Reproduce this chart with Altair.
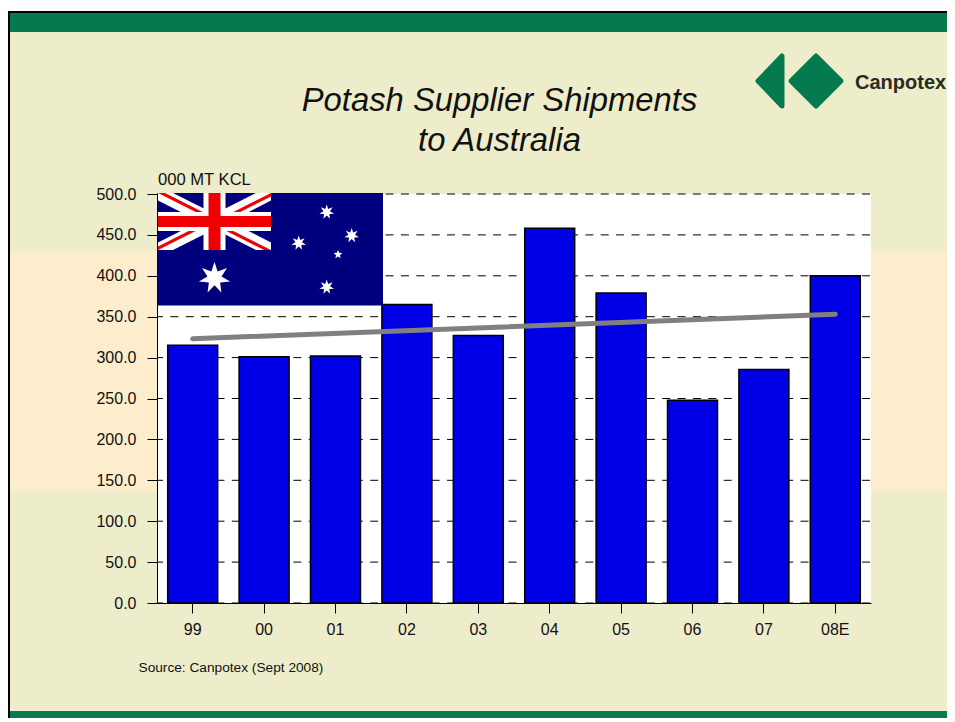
import math
import altair as alt
import pandas as pd

years = ["99", "00", "01", "02", "03", "04", "05", "06", "07", "08E"]
shipments = [315, 301, 302, 365, 327, 458, 379, 248, 285.5, 400]
trend_years = ["99", "08E"]
trend_values = [323, 353]
y_ticks = [0, 50, 100, 150, 200, 250, 300, 350, 400, 450, 500]

FONT = "Liberation Sans"
GREEN = "#047A4E"
BEIGE = "#EEEDCB"
ORANGE = "#FDEDCC"
BLUE = "#0000E6"
NAVY = "#00007F"
RED = "#F00000"
LEFT, TOP = 157, 194
one = pd.DataFrame({"k": [0]})


def px(x):
    return x - LEFT


def py(y):
    return y - TOP


def box(x0, y0, x1, y1, color):
    return alt.Chart(one).mark_rect(color=color, strokeWidth=0).encode(
        x=alt.value(px(x0)), x2=alt.value(px(x1)),
        y=alt.value(py(y0)), y2=alt.value(py(y1)))


def shape(cx, cy, path, color, stroke_w=0):
    return alt.Chart(one).mark_point(
        shape=path, size=4, filled=True, fill=color, opacity=1,
        stroke=color, strokeWidth=stroke_w, strokeJoin="round",
    ).encode(x=alt.value(px(cx)), y=alt.value(py(cy)))


def poly(pts):
    return "M" + " L".join(f"{a:.2f},{b:.2f}" for a, b in pts) + " Z"


def star(r, points=7, inner=0.45):
    pts = []
    for i in range(points * 2):
        a = -math.pi / 2 + i * math.pi / points
        rad = r if i % 2 == 0 else r * inner
        pts.append((rad * math.cos(a), rad * math.sin(a)))
    return poly(pts)


def label(x, y, text, size, align="left", italic=False, bold=False, color="#111111"):
    return alt.Chart(one).mark_text(
        text=text, font=FONT, fontSize=size, align=align, baseline="alphabetic",
        fontStyle="italic" if italic else "normal",
        fontWeight="bold" if bold else "normal", color=color,
    ).encode(x=alt.value(px(x)), y=alt.value(py(y)))


# slide background
bg = [
    box(8, 11, 955, 722, "#000000"),
    box(10, 13, 955, 722, BEIGE),
    box(10, 13, 955, 32, GREEN),
    box(10, 251, 955, 491, ORANGE),
    box(10, 711, 955, 722, GREEN),
    box(157, 194, 871, 603, "#FFFFFF"),
]

x_enc = alt.X("year:N", sort=years, title=None,
              scale=alt.Scale(paddingInner=0.3, paddingOuter=0.15),
              axis=alt.Axis(labelAngle=0, labelFont=FONT, labelFontSize=16,
                            labelColor="#111111", labelPadding=8, tickSize=10,
                            tickColor="#000000", domainColor="#000000", grid=False,
                            zindex=2))
y_enc = alt.Y("value:Q", title=None,
              scale=alt.Scale(domain=[0, 500], nice=False),
              axis=alt.Axis(values=y_ticks, format=".1f", labelFont=FONT, labelFontSize=16,
                            labelColor="#111111", labelPadding=11, tickSize=10,
                            tickColor="#000000", domainColor="#000000", grid=False,
                            zindex=2))

grid = alt.Chart(pd.DataFrame({"value": y_ticks})).mark_rule(
    color="#000000", strokeWidth=1, strokeDash=[8, 7.37], strokeDashOffset=2
).encode(y=y_enc, x=alt.value(0), x2=alt.value(714))

bars = alt.Chart(pd.DataFrame({"year": years, "value": shipments})).mark_bar(
    color=BLUE, stroke="#000000", strokeWidth=1.5
).encode(x=x_enc, y=y_enc)

trend = alt.Chart(pd.DataFrame({"year": trend_years, "value": trend_values})).mark_line(
    color="#808080", strokeWidth=5, strokeCap="round"
).encode(x=x_enc, y=y_enc)

# Australian flag
cx, cy = 214.5, 221.5
w, h = 56.5, 28.5  # half canton


def diag(sign, thick):
    return poly([(-w, -sign * h), (-w + thick, -sign * h), (w, sign * (h - thick * h / w)),
                 (w, sign * h), (w - thick, sign * h), (-w, -sign * (h - thick * h / w))])


flag = [
    box(157.5, 193, 383, 305.5, NAVY),
    shape(cx, cy, diag(1, 15), "#FFFFFF"),
    shape(cx, cy, diag(-1, 15), "#FFFFFF"),
    shape(cx, cy, poly([(0, 0), (-w, -h), (-w + 7, -h), (0, -3.5)]), RED),
    shape(cx, cy, poly([(0, 0), (w, h), (w - 7, h), (0, 3.5)]), RED),
    shape(cx, cy, poly([(0, 0), (-w, h), (-w, h - 3.5), (-7, 0)]), RED),
    shape(cx, cy, poly([(0, 0), (w, -h), (w, -h + 3.5), (7, 0)]), RED),
    box(cx - 11, 193, cx + 11, 250, "#FFFFFF"),
    box(157.5, cy - 9.5, 271, cy + 9.5, "#FFFFFF"),
    box(cx - 6, 193, cx + 6, 250, RED),
    box(157.5, cy - 5.5, 271, cy + 5.5, RED),
    shape(214.5, 278, star(16), "#FFFFFF"),
    shape(326.7, 212, star(7.5), "#FFFFFF"),
    shape(351.7, 235.5, star(7.5), "#FFFFFF"),
    shape(298.7, 243, star(7.5), "#FFFFFF"),
    shape(326.7, 287, star(7.5), "#FFFFFF"),
    shape(338, 254.5, star(4.5, 5), "#FFFFFF"),
]

logo = [
    shape(783, 81, poly([(-25, 0), (-1, -25), (-1, 25)]), GREEN, 5),
    shape(816, 81, poly([(-25, 0), (0, -25), (25, 0), (0, 25)]), GREEN, 5),
    label(855, 89, "Canpotex", 20, bold=True, color="#2A2A22"),
]

texts = [
    label(499.5, 111, "Potash Supplier Shipments", 32.8, align="center", italic=True),
    label(499.5, 151, "to Australia", 32.8, align="center", italic=True),
    label(158, 185, "000 MT KCL", 16.6),
    label(138.5, 672, "Source: Canpotex (Sept 2008)", 13.7),
]

chart = alt.layer(*bg, grid, bars, *flag, trend, *logo, *texts).properties(
    width=714, height=409,
    padding={"left": 149, "top": 186, "right": 76, "bottom": 115},
    autosize=alt.AutoSizeParams(type="none"),
    background="#FFFFFF",
).configure_view(stroke=None)

chart.save("out.html", embed_options={"renderer": "svg", "actions": False})
